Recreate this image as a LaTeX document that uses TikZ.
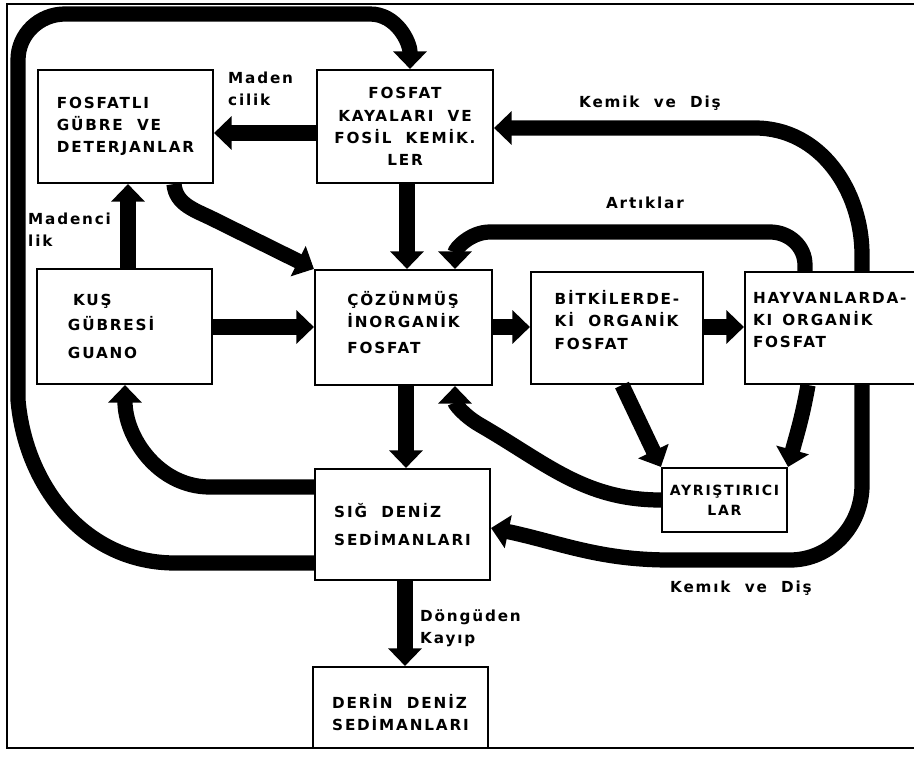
\documentclass[tikz,border=0pt]{standalone}
\usepackage{fontspec}
\newfontfamily\boxfont{DejaVu Sans}[LetterSpace=12]
\usetikzlibrary{arrows.meta}

\begin{document}
\begin{tikzpicture}[x=0.03cm, y=-0.03cm,
  box/.style={draw, line width=1.8pt, fill=white, inner sep=0pt, align=left,
    font=\boxfont\bfseries\fontsize{13}{19}\selectfont},
  lbl/.style={inner sep=0pt, align=left, font=\boxfont\bfseries\fontsize{13}{19}\selectfont},
  flow/.style={line width=13pt, -{Triangle[width=28pt, length=15pt]}},
  frame/.style={line width=2.2pt}
]
  \clip (0,0) rectangle (914,757);
  \draw[frame] (914,4) -- (7,4) -- (7,748) -- (914,748);

  % boxes
  \node[box, minimum width=5.25cm, minimum height=3.39cm] (gubre) at (125.5,126.5)
       {FOSFATLI\\GÜBRE~~VE\\DETERJANLAR};
  \node[box, align=center, minimum width=5.28cm, minimum height=3.39cm] (kaya) at (405,126.5)
       {FOSFAT\\KAYALARI~~VE\\FOSİL~~KEMİK.\\LER};
  \node[box, text width=3.39cm, minimum width=5.25cm, minimum height=3.45cm] (guano) at (124.5,326.5)
       {~KUŞ\\[2pt]GÜBRESİ\\[5pt]GUANO};
  \node[box, minimum width=5.31cm, minimum height=3.45cm] (coz) at (403.5,327.5)
       {ÇÖZÜNMÜŞ\\İNORGANİK\\[3pt]FOSFAT\\[-10pt]\mbox{}};
  \node[box, minimum width=5.16cm, minimum height=3.36cm] (bitki) at (617,328)
       {BİTKİLERDE-\\Kİ~~ORGANİK\\FOSFAT\\[-5pt]\mbox{}};
  \node[box, text width=4.92cm, minimum width=5.4cm, minimum height=3.36cm] (hayvan) at (835,328)
       {HAYVANLARDA-\\KI~~ORGANİK\\FOSFAT\\[-5pt]\mbox{}};
  \node[box, align=center, minimum width=3.75cm, minimum height=1.92cm,
        font=\boxfont\bfseries\fontsize{12}{17}\selectfont] (ayris) at (724.5,500)
       {AYRIŞTIRICI\\LAR};
  \node[box, minimum width=5.25cm, minimum height=3.33cm] (sig) at (402.5,524.5)
       {SIĞ~~DENİZ\\[5pt]SEDİMANLARI};
  \node[box, minimum width=5.25cm, minimum height=2.43cm] (derin) at (400.5,707.5)
       {\mbox{}\\[2pt]DERİN~~DENİZ\\SEDİMANLARI};

  % flows
  \draw[flow] (kaya.west |- 0,133) -- (gubre.east |- 0,133);
  \draw[flow] (guano.north -| 128,0) -- (gubre.south -| 128,0);
  \draw[flow] (gubre.south -| 174,0) to[out=-85,in=153] (215,220) -- (coz.north west);
  \draw[flow] (kaya.south -| 407,0) -- (coz.north -| 407,0);
  \draw[flow] (guano.east |- 0,327) -- (coz.west |- 0,327);
  \draw[flow] (coz.east |- 0,327) -- (bitki.west |- 0,327);
  \draw[flow] (bitki.east |- 0,327) -- (hayvan.west |- 0,327);
  \draw[flow] (coz.south -| 406,0) -- (sig.north -| 406,0);
  \draw[flow] (sig.south -| 405,0) -- (derin.north -| 405,0);
  \draw[flow] (bitki.south -| 622,0) -- (ayris.north west);
  \draw[flow] (hayvan.south -| 808,0) to[out=-100,in=75] (ayris.north east);
  \draw[flow] (ayris.west |- 0,500) to[out=180,in=-30] (480,425) to[out=150,in=-90] (coz.south -| 455,0);
  \draw[flow] (hayvan.north -| 805,0) -- (805,265) to[out=90,in=0] (770,232) -- (490,232)
       to[out=180,in=90] (coz.north -| 455,0);
  \draw[flow] (hayvan.north -| 862,0) -- (862,255) to[out=90,in=0] (755,128) -- (kaya.east |- 0,128);
  \draw[flow] (hayvan.south -| 862,0) -- (862,485) to[out=-90,in=0] (790,560) -- (670,560)
       to[out=180,in=-12] (sig.east |- 0,528);
  \draw[flow] (sig.west |- 0,487) -- (210,487) to[out=180,in=-90] (guano.south -| 125,0);
  \draw[flow] (sig.west |- 0,563) -- (175,563) to[out=180,in=-85] (18,400) -- (18,60)
       to[out=90,in=180] (65,14) -- (370,14) to[out=0,in=90] (kaya.north -| 410,0);

  % labels
  \node[lbl, anchor=west] (madencilik) at (228,89) {Maden\\cilik};
  \node[lbl, anchor=west] (madencilikb) at (28,230) {Madenci\\lik};
  \node[lbl] (kemikust) at (650,103) {Kemik~~ve~~Diş};
  \node[lbl] (artiklar) at (645,203) {Artıklar};
  \node[lbl] (kemikalt) at (741,588) {Kemık~~ve~~Diş};
  \node[lbl, anchor=west] (kayip) at (420,628) {Döngüden\\Kayıp};
\end{tikzpicture}
\end{document}
